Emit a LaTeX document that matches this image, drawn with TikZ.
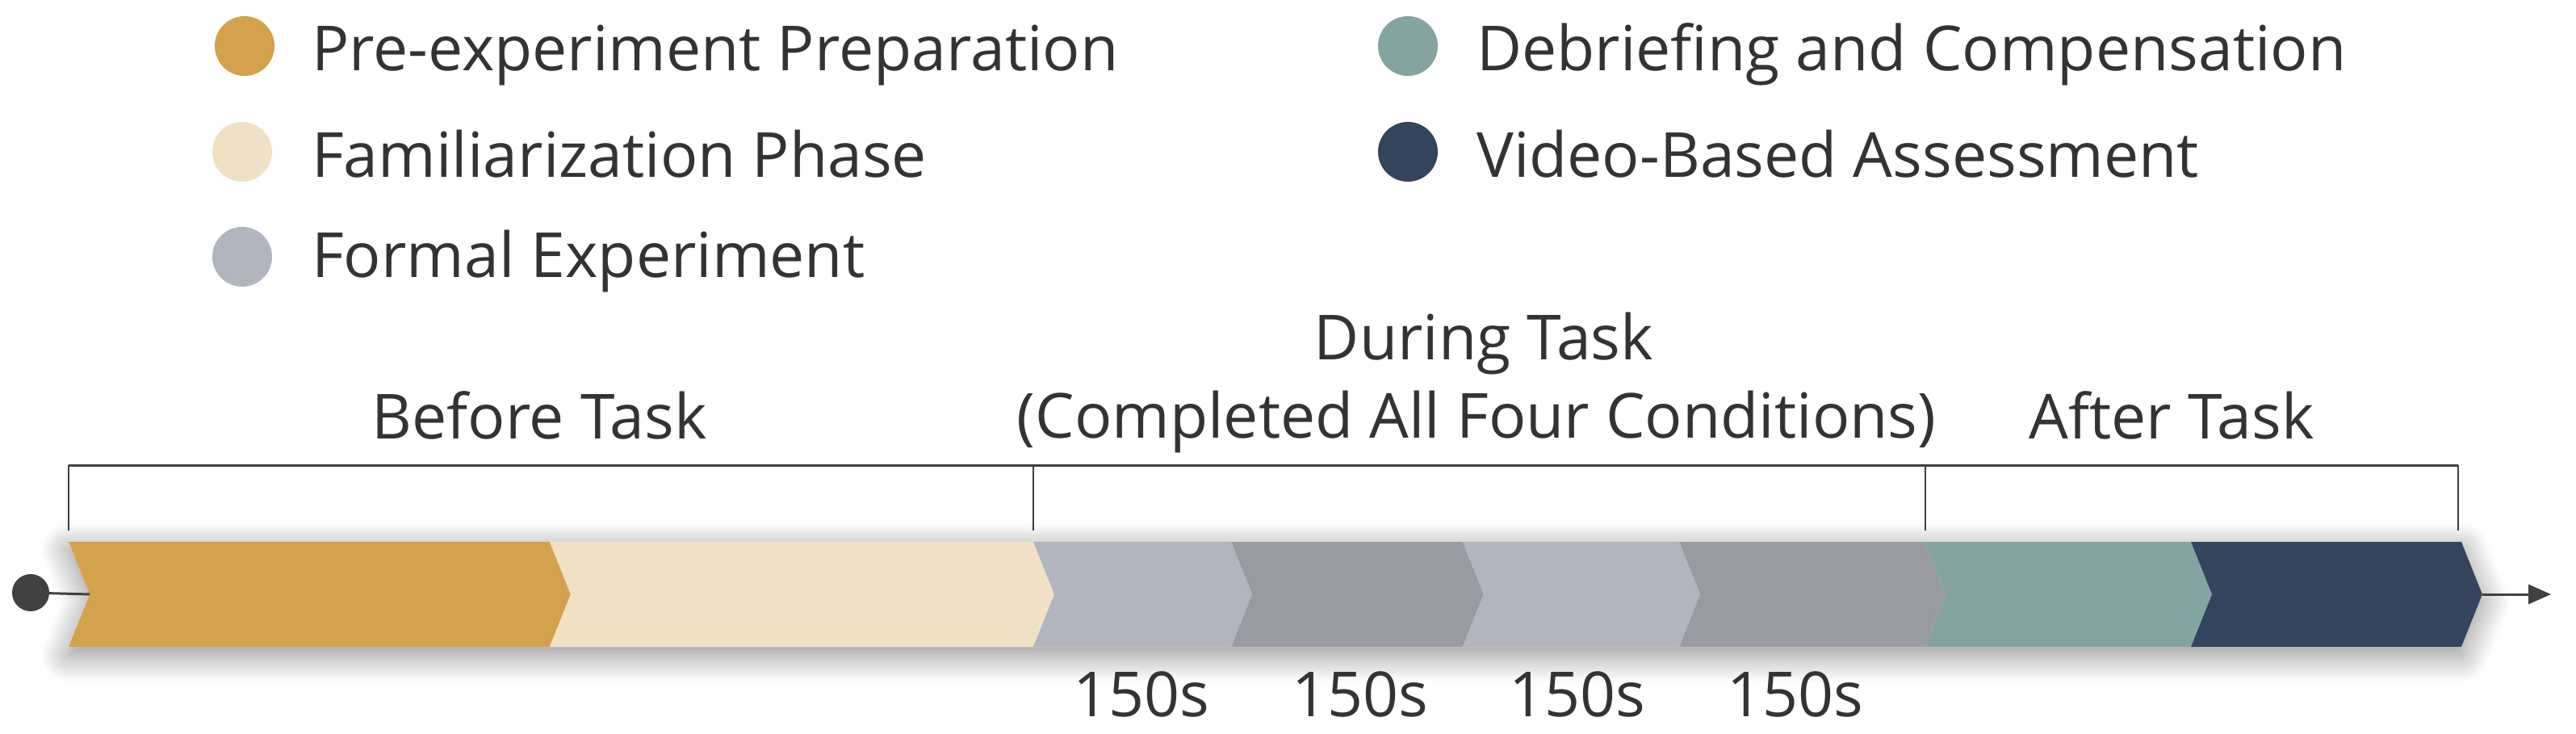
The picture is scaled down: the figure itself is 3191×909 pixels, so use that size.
\documentclass[tikz,border=0pt]{standalone}
\usepackage{fontspec}
\setmainfont{Open Sans}
\usetikzlibrary{shadows.blur,arrows.meta}
\definecolor{cgold}{HTML}{D4A24C}
\definecolor{cbeige}{HTML}{F1E1C4}
\definecolor{cgrayA}{HTML}{B2B4C0}
\definecolor{cgrayB}{HTML}{989AA4}
\definecolor{cteal}{HTML}{84A4A2}
\definecolor{cnavy}{HTML}{33445C}
\definecolor{ctext}{HTML}{333333}
\definecolor{cline}{HTML}{404040}
\newcommand\chevshape[3]{%
  \fill[#3] (#1,671) -- (#2,671) -- (#2+26,736) -- (#2,801) -- (#1,801) -- (#1+26,736) -- cycle;}
\begin{document}
\begin{tikzpicture}[x=1pt,y=-1pt,
  lbl/.style={text=ctext,font=\fontsize{77}{90}\selectfont,inner sep=0pt},
  ldot/.style={circle,minimum size=74pt,inner sep=0pt},
  brk/.style={cline,line width=3pt},
  tick/.style={cline,line width=2pt},
]
\useasboundingbox (0,0) rectangle (3191,909);

% legend
\node[ldot,fill=cgold]  (d1) at (303,57) {};
\node[lbl,anchor=base west] (t1) at (386,88) {Pre-experiment Preparation};
\node[ldot,fill=cbeige] (d2) at (300,188) {};
\node[lbl,anchor=base west] (t2) at (386,220) {Familiarization Phase};
\node[ldot,fill=cgrayA] (d3) at (300,318) {};
\node[lbl,anchor=base west] (t3) at (386,343) {Formal Experiment};
\node[ldot,fill=cteal]  (d4) at (1744,57) {};
\node[lbl,anchor=base west] (t4) at (1829,88) {Debriefing and Compensation};
\node[ldot,fill=cnavy]  (d5) at (1744,188) {};
\node[lbl,anchor=base west] (t5) at (1829,220) {Video-Based Assessment};

% phase headings
\node[lbl,anchor=base] (hb) at (668,543) {Before Task};
\node[lbl,anchor=base] (hd) at (1838,445) {During Task};
\node[lbl,anchor=base] (hc) at (1829,542) {(Completed All Four Conditions)};
\node[lbl,anchor=base] (ha) at (2690,543) {After Task};

% bracket
\coordinate (b0) at (85,576);
\coordinate (b1) at (1280,576);
\coordinate (b2) at (2385,576);
\coordinate (b3) at (3045,576);
\draw[brk] (b0) -- (b3);
\draw[tick] (b0) -- ++(0,81);
\draw[tick] (b1) -- ++(0,81);
\draw[tick] (b2) -- ++(0,81);
\draw[tick] (b3) -- ++(0,81);

% band shadow
\path[fill=white, blur shadow={shadow xshift=0pt, shadow yshift=-10pt,
  shadow blur radius=34pt, shadow blur steps=14, shadow opacity=45}]
  (85,671) -- (3049,671) -- (3075,736) -- (3049,801) -- (85,801) -- (111,736) -- cycle;

% chevrons
\chevshape{85}{681}{cgold}
\chevshape{681}{1280}{cbeige}
\chevshape{1280}{1525}{cgrayA}
\chevshape{1525}{1812}{cgrayB}
\chevshape{1812}{2080}{cgrayA}
\chevshape{2080}{2384}{cgrayB}
\chevshape{2384}{2714}{cteal}
\chevshape{2714}{3049}{cnavy}
\coordinate (c1l) at (111,736);
\coordinate (c8tip) at (3075,736);
\coordinate (tend) at (3160,736);

% start dot and arrow
\node[circle,fill=cline,minimum size=46pt,inner sep=0pt] (start) at (38,734) {};
\draw[cline,line width=3pt] (start) -- (c1l);
\draw[cline,line width=3pt,-{Triangle[length=28pt,width=24pt]}] (c8tip) -- (tend);

% durations
\node[lbl,anchor=base] (s1) at (1414,887) {150s};
\node[lbl,anchor=base] (s2) at (1685,887) {150s};
\node[lbl,anchor=base] (s3) at (1954,887) {150s};
\node[lbl,anchor=base] (s4) at (2224,887) {150s};
\end{tikzpicture}
\end{document}
